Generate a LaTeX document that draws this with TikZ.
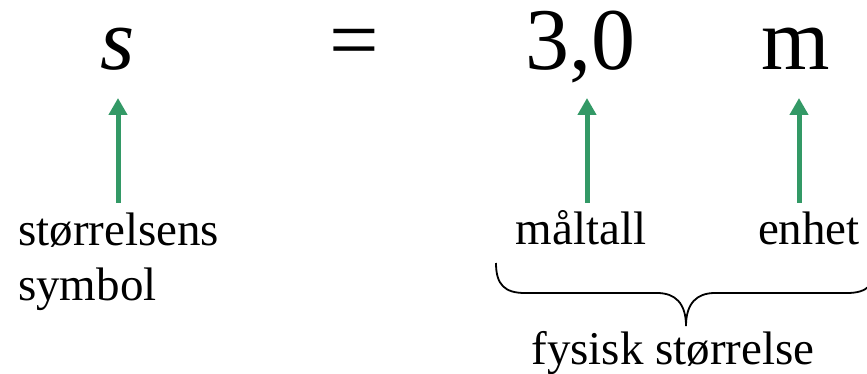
\documentclass[tikz,border=0pt]{standalone}
\usepackage{fontspec}
\setmainfont{Liberation Serif}
\usetikzlibrary{arrows.meta}
\definecolor{arrowgreen}{RGB}{51,153,102}
\tikzset{
  big/.style={anchor=base, inner sep=0pt, font=\fontsize{88}{100}\selectfont},
  lbl/.style={inner sep=0pt, font=\fontsize{47}{55}\selectfont},
  ptr/.style={draw=arrowgreen, line width=5pt, -{Triangle[width=18pt,length=17pt]}},
  brace/.style={draw=black, line width=1.8pt}
}
\begin{document}
\begin{tikzpicture}[x=1pt,y=-1pt]
\useasboundingbox (0,0) rectangle (867,374);
\begin{scope}
\clip (0,0) rectangle (867,374);
\node[big] (s) at (118,70) {\itshape s};
\node[big] (eq) at (354,70) {=};
\node[big] (num) at (580,70) {3,0};
\node[big] (unit) at (796,70) {m};
\node[lbl, anchor=base west] (sym1) at (18,245) {størrelsens};
\node[lbl, anchor=base west] (sym2) at (18,300) {symbol};
\node[lbl, anchor=base] (malt) at (581,244) {måltall};
\node[lbl, anchor=base] (enh) at (809,244) {enhet};
\node[lbl, anchor=base] (fys) at (673,364) {fysisk størrelse};
\coordinate (a1) at (118,203); \coordinate (b1) at (118,98);
\coordinate (a2) at (587,203); \coordinate (b2) at (587,98);
\coordinate (a3) at (799,203); \coordinate (b3) at (799,98);
\draw[ptr] (a1) -- (b1);
\draw[ptr] (a2) -- (b2);
\draw[ptr] (a3) -- (b3);
\coordinate (bl) at (496,263);
\coordinate (bt) at (686,326);
\coordinate (br) at (876,263);
\draw[brace] (bl) .. controls (496,285) and (505,293) .. (525,293) -- (657,293)
  .. controls (675,293) and (686,303) .. (bt)
  .. controls (686,303) and (697,293) .. (715,293) -- (847,293)
  .. controls (867,293) and (876,285) .. (br);
\end{scope}
\end{tikzpicture}
\end{document}
